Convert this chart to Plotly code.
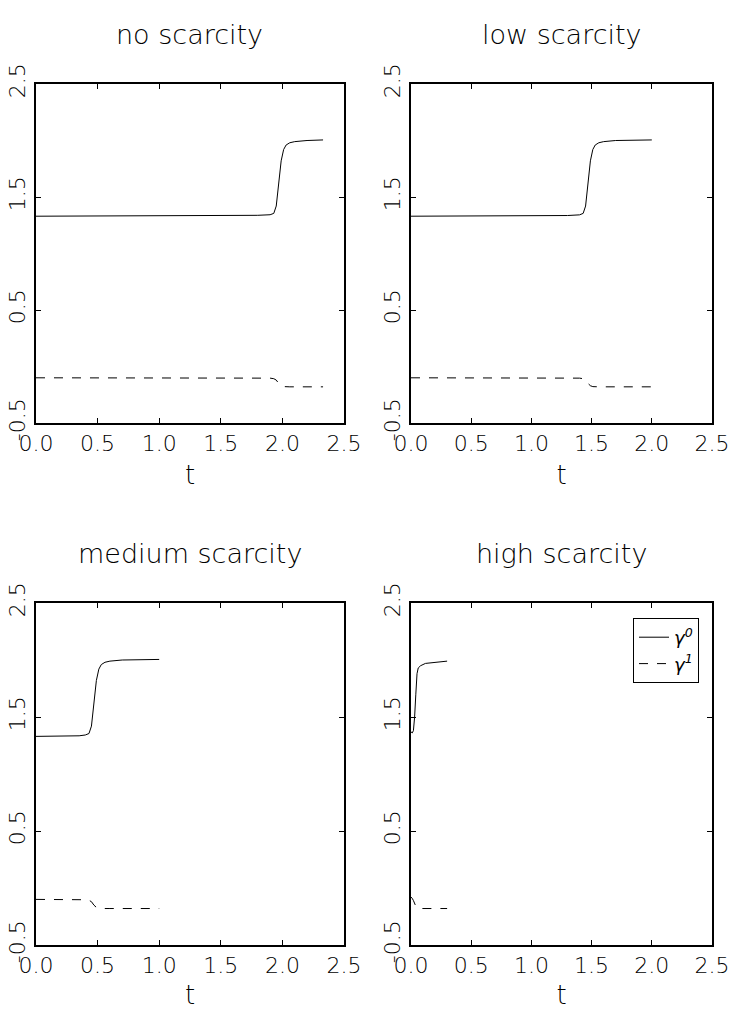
import plotly.graph_objects as go

titles = ["no scarcity", "low scarcity", "medium scarcity", "high scarcity"]

# gamma0 and gamma1 curves per panel (t, value)
t_p1 = [0.0, 0.5, 1.0, 1.5, 1.8, 1.9, 1.93, 1.95, 1.97, 1.99, 2.01, 2.03, 2.06, 2.1, 2.2, 2.33]
g0_p1 = [1.33, 1.331, 1.332, 1.334, 1.338, 1.343, 1.355, 1.42, 1.62, 1.82, 1.92, 1.96, 1.98, 1.99, 2.0, 2.005]
g1_p1 = [-0.10, -0.10, -0.10, -0.10, -0.101, -0.103, -0.108, -0.12, -0.15, -0.17, -0.178, -0.18, -0.18, -0.18, -0.18, -0.18]

t_p2 = [0.0, 0.5, 1.0, 1.3, 1.4, 1.43, 1.45, 1.47, 1.49, 1.51, 1.53, 1.56, 1.6, 1.7, 2.0]
g0_p2 = [1.33, 1.331, 1.332, 1.336, 1.342, 1.355, 1.42, 1.62, 1.82, 1.92, 1.96, 1.98, 1.99, 2.0, 2.005]
g1_p2 = [-0.10, -0.10, -0.10, -0.101, -0.103, -0.108, -0.12, -0.15, -0.17, -0.178, -0.18, -0.18, -0.18, -0.18, -0.18]

t_p3 = [0.0, 0.2, 0.35, 0.4, 0.43, 0.45, 0.47, 0.49, 0.51, 0.53, 0.56, 0.6, 0.7, 1.0]
g0_p3 = [1.33, 1.331, 1.335, 1.342, 1.355, 1.42, 1.62, 1.82, 1.92, 1.96, 1.98, 1.99, 2.0, 2.005]
g1_p3 = [-0.10, -0.10, -0.101, -0.103, -0.108, -0.12, -0.15, -0.17, -0.178, -0.18, -0.18, -0.18, -0.18, -0.18]

t_p4 = [0.0, 0.01, 0.02, 0.03, 0.04, 0.05, 0.06, 0.08, 0.12, 0.2, 0.3]
g0_p4 = [1.37, 1.36, 1.38, 1.5, 1.7, 1.88, 1.93, 1.95, 1.97, 1.98, 1.99]
g1_p4 = [-0.08, -0.09, -0.11, -0.14, -0.16, -0.175, -0.18, -0.18, -0.18, -0.18, -0.18]

series = [(t_p1, g0_p1, g1_p1), (t_p2, g0_p2, g1_p2), (t_p3, g0_p3, g1_p3), (t_p4, g0_p4, g1_p4)]

x_ticks = [0.0, 0.5, 1.0, 1.5, 2.0, 2.5]
y_ticks = [-0.5, 0.5, 1.5, 2.5]
y_ticktext = ["-0.5", "0.5", "1.5", "2.5"]

W, H = 739, 1010
panels = [  # left, right, top, bottom in px
    (36, 344, 84, 423),
    (411, 712, 84, 423),
    (36, 344, 603, 945),
    (411, 712, 603, 945),
]

FONT = "DejaVu Sans"
fig = go.Figure()

for i, ((t, g0, g1), (l, r, tp, b)) in enumerate(zip(series, panels)):
    n = i + 1
    xa = "x" if n == 1 else f"x{n}"
    ya = "y" if n == 1 else f"y{n}"
    fig.add_trace(go.Scatter(x=t, y=g0, mode="lines", line=dict(color="black", width=1),
                             name="γ<sup>0</sup>", showlegend=(n == 4), xaxis=xa, yaxis=ya))
    fig.add_trace(go.Scatter(x=t, y=g1, mode="lines", line=dict(color="black", width=1, dash="dash"),
                             name="γ<sup>1</sup>", showlegend=(n == 4), xaxis=xa, yaxis=ya))
    axcommon = dict(showgrid=False, zeroline=False, showline=True, linecolor="black", linewidth=2,
                    mirror="ticks", ticks="inside", ticklen=5, tickcolor="black", tickwidth=1,
                    automargin=False,
                    tickfont=dict(family=FONT, size=22, color="black", weight=200))
    fig.update_layout(**{
        ("xaxis" if n == 1 else f"xaxis{n}"): dict(
            domain=[l / W, r / W], anchor=ya, range=[0, 2.5], tickvals=x_ticks,
            tickformat=".1f",
            title=dict(text="t", font=dict(family=FONT, size=26, color="black", weight=200), standoff=10),
            **axcommon),
        ("yaxis" if n == 1 else f"yaxis{n}"): dict(
            domain=[1 - b / H, 1 - tp / H], anchor=xa, range=[-0.5, 2.5], tickvals=y_ticks,
            ticktext=y_ticktext, tickangle=-90, **axcommon),
    })
    fig.add_annotation(text=titles[i], x=(l + r) / 2 / W, y=1 - (tp - 50) / H, xref="paper", yref="paper",
                       showarrow=False, font=dict(family=FONT, size=27, color="black", weight=200),
                       xanchor="center", yanchor="middle")

fig.update_layout(
    width=W, height=H, margin=dict(l=0, r=0, t=0, b=0),
    paper_bgcolor="white", plot_bgcolor="white",
    legend=dict(x=699 / W, y=1 - 618 / H, xanchor="right", yanchor="top",
                bordercolor="black", borderwidth=1, bgcolor="white",
                font=dict(family=FONT, size=18, color="black", style="italic"),
                tracegroupgap=0, itemwidth=30),
    showlegend=True,
)

fig.write_html("out.html", config={"displayModeBar": False},
               post_script="document.body.style.margin='0';document.body.style.overflow='hidden';")
